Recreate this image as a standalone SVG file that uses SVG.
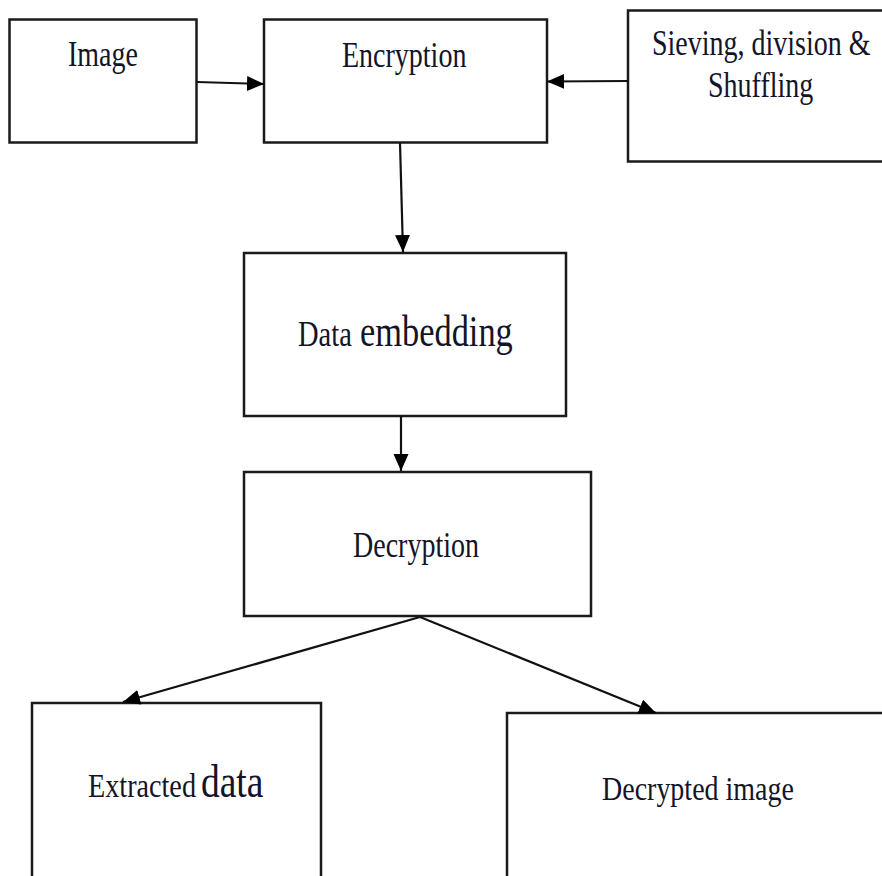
<svg xmlns="http://www.w3.org/2000/svg" width="882" height="876" viewBox="0 0 882 876">
  <style>
    .box { fill: #ffffff; stroke: #1a1a1a; stroke-width: 2.5; }
    .lbl { font-family: "Liberation Serif", "Times New Roman", serif; fill: #141428; font-size: 28px; }
    .conn { stroke: #111111; stroke-width: 2.2; fill: none; marker-end: url(#arrow); }
  </style>
  <defs>
    <marker id="arrow" markerUnits="userSpaceOnUse" markerWidth="18" markerHeight="16" refX="17" refY="7.5" orient="auto">
      <path d="M0,0 L17,7.5 L0,15 z" fill="#000000"/>
    </marker>
  </defs>
  <rect width="882" height="876" fill="#ffffff"/>

  <g id="node-image">
    <rect class="box" x="9.5" y="19.5" width="187" height="123"/>
    <text class="lbl" transform="translate(68,66) scale(1,1.25)" font-size="27.6">Image</text>
  </g>

  <g id="node-encryption">
    <rect class="box" x="264" y="19.5" width="283" height="123"/>
    <text class="lbl" transform="translate(342,67) scale(1,1.25)">Encryption</text>
  </g>

  <g id="node-sieving">
    <rect class="box" x="628" y="10.5" width="270" height="151"/>
    <text class="lbl" transform="translate(652,55) scale(1,1.25)" font-size="27.6">Sieving, division &amp;</text>
    <text class="lbl" transform="translate(708,97) scale(1,1.25)" font-size="27.8">Shuffling</text>
  </g>

  <g id="node-embedding">
    <rect class="box" x="244" y="253" width="322" height="163"/>
    <text class="lbl" transform="translate(298,346) scale(1,1.27)"><tspan x="0" font-size="28.5">Data</tspan><tspan x="62" font-size="34.4">embedding</tspan></text>
  </g>

  <g id="node-decryption">
    <rect class="box" x="244" y="472" width="347" height="144"/>
    <text class="lbl" transform="translate(353,557) scale(1,1.25)" font-size="28.4">Decryption</text>
  </g>

  <g id="node-extracted">
    <rect class="box" x="32" y="703" width="289" height="200"/>
    <text class="lbl" transform="translate(88,797) scale(1,1.22)"><tspan x="0" font-size="28.2">Extracted</tspan><tspan x="113" font-size="37.5">data</tspan></text>
  </g>

  <g id="node-decrypted">
    <rect class="box" x="507" y="713" width="400" height="200"/>
    <text class="lbl" transform="translate(602,800) scale(1,1.22)" font-size="28.2">Decrypted image</text>
  </g>

  <g id="connectors">
    <line class="conn" x1="197" y1="82" x2="264" y2="84"/>
    <line class="conn" x1="628" y1="81" x2="547" y2="81.5"/>
    <line class="conn" x1="400" y1="143" x2="403" y2="252"/>
    <line class="conn" x1="401" y1="416" x2="401" y2="471"/>
    <line class="conn" x1="420" y1="617" x2="123" y2="702"/>
    <line class="conn" x1="420" y1="617" x2="656" y2="713"/>
  </g>
</svg>
